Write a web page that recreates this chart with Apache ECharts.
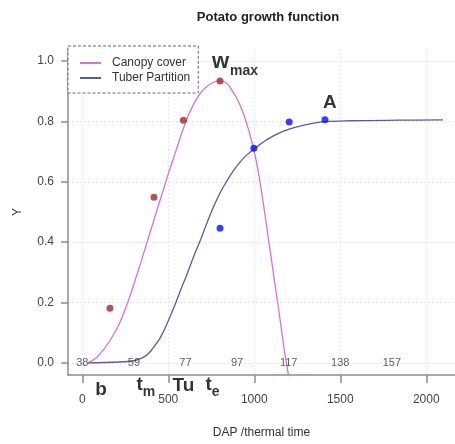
<!DOCTYPE html>
<html>
<head>
<meta charset="utf-8">
<title>Potato growth function</title>
<script src="https://cdn.jsdelivr.net/npm/echarts@6/dist/echarts.min.js"></script>
<style>
  html, body { margin: 0; padding: 0; background: #fff; }
  #chart { width: 455px; height: 444px; }
</style>
</head>
<body>
<div id="chart"></div>
<script>
// Fitted canopy cover curve (thermal time, cover fraction)
const canopyCurveX = [33, 80, 126, 173, 219, 266, 312, 359, 405, 452, 498, 545, 585, 626, 667, 708, 754, 801, 841, 876, 905, 934, 963, 1004, 1033, 1062, 1091, 1120, 1149, 1178, 1202];
const canopyCurveY = [0, 0.016, 0.046, 0.085, 0.134, 0.203, 0.282, 0.367, 0.452, 0.538, 0.622, 0.703, 0.772, 0.832, 0.876, 0.907, 0.927, 0.934, 0.925, 0.898, 0.869, 0.830, 0.780, 0.689, 0.600, 0.492, 0.377, 0.262, 0.148, 0.030, -0.049];

// Fitted tuber partition curve
const tuberCurveX = [33, 220, 306, 341, 376, 411, 452, 492, 533, 568, 609, 644, 684, 719, 760, 801, 841, 876, 917, 957, 998, 1051, 1109, 1167, 1237, 1324, 1411, 1556, 1847, 2097];
const tuberCurveY = [0, 0.003, 0.008, 0.015, 0.026, 0.049, 0.082, 0.129, 0.184, 0.236, 0.294, 0.347, 0.403, 0.455, 0.513, 0.563, 0.603, 0.634, 0.665, 0.689, 0.708, 0.731, 0.751, 0.767, 0.780, 0.792, 0.799, 0.802, 0.804, 0.805];

// Observed points
const canopyObsX = [161, 417, 588, 801];
const canopyObsY = [0.181, 0.549, 0.804, 0.934];
const tuberObsX = [801, 998, 1203, 1411];
const tuberObsY = [0.446, 0.711, 0.798, 0.805];

// Days after planting written along the zero line
const dapX = [0, 300, 600, 900, 1200, 1500, 1800];
const dapText = ['38', '59', '77', '97', '117', '138', '157'];

// Parameter annotations: [x, y, rich text]
const paramX = [888, 1440, 109, 370, 588, 757];
const paramY = [0.988, 0.86, -0.0875, -0.08, -0.075, -0.08];
const paramText = ['{w|w}{s|max}', '{big|A}', '{big|b}', '{t|t}{s|m}', '{big|Tu}', '{t|t}{s|e}'];

// Axis ticks
const xTicks = [0, 500, 1000, 1500, 2000];
const yTicks = [0, 0.2, 0.4, 0.6, 0.8, 1.0];

const zip = (xs, ys) => xs.map((x, i) => [x, ys[i]]);

const font = 'Liberation Sans, Arial, sans-serif';
const axisGray = '#8c8c8c';
const gridStyle = { color: '#e6e6e6', type: [2, 2], width: 1 };

const chart = echarts.init(document.getElementById('chart'), null, { renderer: 'canvas' });

chart.setOption({
  animation: false,
  backgroundColor: '#ffffff',
  title: {
    text: 'Potato growth function',
    left: 263,
    top: 6,
    textAlign: 'center',
    textStyle: { fontFamily: font, fontSize: 13, fontWeight: 'bold', color: '#222' }
  },
  grid: { left: 68, right: 0, top: 48.9, bottom: 65.7, containLabel: false },
  legend: {
    data: ['Canopy cover', 'Tuber Partition'],
    orient: 'vertical',
    left: 68,
    top: 46,
    icon: 'rect',
    itemWidth: 21,
    itemHeight: 2,
    itemGap: 3,
    padding: [11, 8, 9, 12],
    backgroundColor: '#ffffff',
    borderColor: '#666',
    borderWidth: 1,
    borderType: [3, 2],
    textStyle: { fontFamily: font, fontSize: 12, color: '#333', padding: [0, 0, 0, 6] }
  },
  xAxis: {
    type: 'value',
    min: -83,
    max: 2167,
    name: 'DAP /thermal time',
    nameLocation: 'middle',
    nameGap: 52,
    nameTextStyle: { fontFamily: font, fontSize: 12, color: '#333' },
    axisLine: { show: true, onZero: false, lineStyle: { color: axisGray, width: 1.5 } },
    axisTick: { show: true, length: 8, customValues: xTicks, lineStyle: { color: axisGray, width: 1.5 } },
    axisLabel: {
      customValues: xTicks, margin: 19, fontFamily: font, fontSize: 12, color: '#444',
      formatter: v => String(v)
    },
    splitLine: { show: true, lineStyle: gridStyle }
  },
  yAxis: {
    type: 'value',
    min: -0.04,
    max: 1.04,
    name: 'Y',
    nameLocation: 'middle',
    nameGap: 44,
    nameRotate: 90,
    nameTextStyle: { fontFamily: font, fontSize: 12, color: '#333' },
    axisLine: { show: true, onZero: false, lineStyle: { color: axisGray, width: 1.5 } },
    axisTick: { show: true, length: 7, customValues: yTicks, lineStyle: { color: axisGray, width: 1.5 } },
    axisLabel: {
      customValues: yTicks, margin: 14, fontFamily: font, fontSize: 12, color: '#444',
      formatter: v => v.toFixed(1)
    },
    splitLine: { show: true, lineStyle: gridStyle }
  },
  series: [
    {
      name: 'Canopy cover',
      type: 'line',
      data: zip(canopyCurveX, canopyCurveY),
      smooth: 0.4,
      showSymbol: false,
      color: '#d672d4',
      lineStyle: { color: '#d672d4', width: 1.3 },
      z: 3
    },
    {
      name: 'Tuber Partition',
      type: 'line',
      data: zip(tuberCurveX, tuberCurveY),
      smooth: 0.4,
      showSymbol: false,
      color: '#5a5aa6',
      lineStyle: { color: '#5a5aa6', width: 1.3 },
      z: 3
    },
    {
      name: 'Canopy observed',
      type: 'scatter',
      data: zip(canopyObsX, canopyObsY),
      symbolSize: 7,
      itemStyle: { color: '#a5282a' },
      z: 4
    },
    {
      name: 'Tuber observed',
      type: 'scatter',
      data: zip(tuberObsX, tuberObsY),
      symbolSize: 7,
      itemStyle: { color: '#0a10e6' },
      z: 4
    },
    {
      name: 'DAP',
      type: 'scatter',
      data: dapX.map((x, i) => ({ value: [x, 0], label: { formatter: dapText[i] } })),
      symbolSize: 0,
      silent: true,
      label: {
        show: true, position: 'inside',
        fontFamily: font, fontSize: 11, color: '#333'
      },
      z: 5
    },
    {
      name: 'Parameters',
      type: 'scatter',
      clip: false,
      data: paramX.map((x, i) => ({ value: [x, paramY[i]], label: { formatter: paramText[i] } })),
      symbolSize: 0,
      silent: true,
      label: {
        show: true, position: 'inside', color: '#000',
        rich: {
          w: { fontFamily: font, fontSize: 22, fontWeight: 'bold', color: '#000', verticalAlign: 'bottom', padding: [0, 1, 6, 0] },
          s: { fontFamily: font, fontSize: 14, fontWeight: 'bold', color: '#000', verticalAlign: 'bottom' },
          t: { fontFamily: font, fontSize: 19, fontWeight: 'bold', color: '#000', verticalAlign: 'bottom', padding: [0, 0, 5, 0] },
          big: { fontFamily: font, fontSize: 19, fontWeight: 'bold', color: '#000' }
        }
      },
      z: 6
    }
  ]
});
</script>
</body>
</html>
